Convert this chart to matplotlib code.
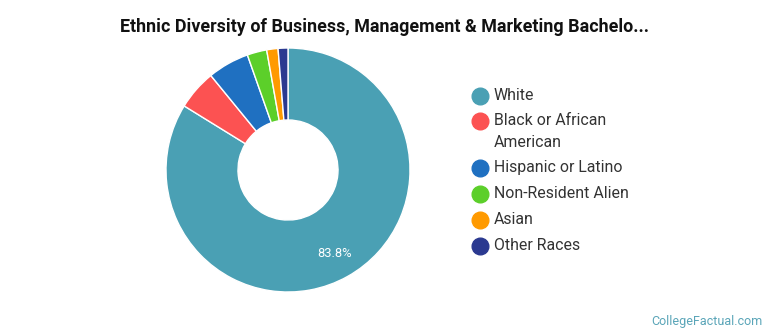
import matplotlib
matplotlib.use("Agg")
import matplotlib.pyplot as plt
from matplotlib.lines import Line2D

plt.rcParams['font.family'] = ['Roboto', 'DejaVu Sans']

labels = ["White", "Black or African\nAmerican", "Hispanic or Latino",
          "Non-Resident Alien", "Asian", "Other Races"]
shares = [83.8, 5.3, 5.5, 2.6, 1.5, 1.3]
colors = ["#4aa0b4", "#fc5252", "#1f70c1", "#5ccf2a", "#ff9a00", "#2b3990"]

W, H = 770, 335
fig = plt.figure(figsize=(W / 100, H / 100), dpi=100)

# donut
cx, cy, r = 288, 170, 122
ax = fig.add_axes([(cx - r) / W, (H - cy - r) / H, 2 * r / W, 2 * r / H])

def pct(p):
    return f"{p:.1f}%" if p > 50 else ""

wedges, _, autotexts = ax.pie(
    shares, colors=colors, startangle=90, counterclock=False, radius=1,
    autopct=pct, pctdistance=0.78,
    wedgeprops=dict(width=0.59, edgecolor="white", linewidth=1),
    textprops=dict(color="white", fontsize=9.3),
)
ax.set_xlim(-1, 1)
ax.set_ylim(-1, 1)
ax.set_aspect("equal")
ax.axis("off")

fig.text(385 / W, 1 - 27 / H,
         "Ethnic Diversity of Business, Management & Marketing Bachelo...",
         ha="center", va="center", fontsize=12.9, fontweight="bold", color="#111111")

# legend
ys = [96, 121, 168, 194, 220, 246]
for lab, col, y in zip(labels, colors, ys):
    fig.add_artist(Line2D([480 / W], [1 - y / H], marker="o", markersize=12,
                          color=col, linestyle="none", transform=fig.transFigure))
    fig.text(494 / W, 1 - (y - 8) / H, lab, ha="left", va="top",
             fontsize=11.4, color="#333333", linespacing=1.55)

fig.text(763 / W, 1 - 321 / H, "CollegeFactual.com", ha="right", va="center",
         fontsize=9, color="#5aa5b8")

fig.savefig("out.png", dpi=100)
